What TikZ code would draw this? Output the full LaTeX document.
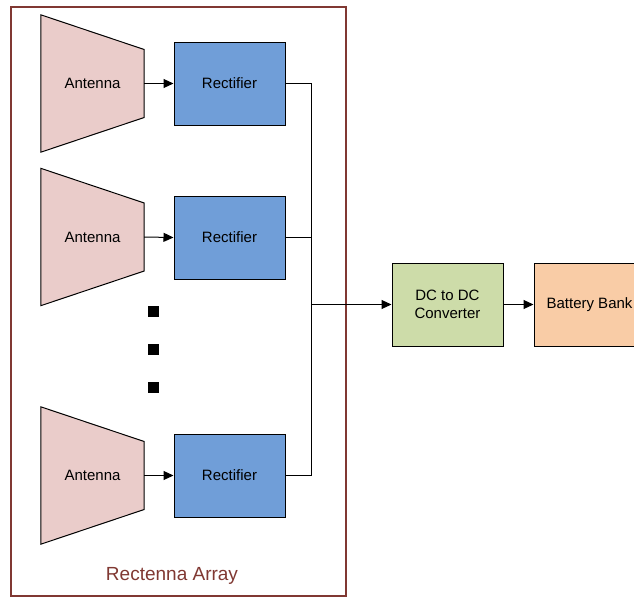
\documentclass[tikz,border=0pt]{standalone}
\usepackage{fontspec}
\setmainfont{Liberation Sans}
\usetikzlibrary{arrows.meta}
\definecolor{framec}{RGB}{128,56,50}
\definecolor{antc}{RGB}{234,204,202}
\definecolor{rectc}{RGB}{112,158,216}
\definecolor{dcc}{RGB}{205,220,169}
\definecolor{batc}{RGB}{249,204,166}
\tikzset{
  box/.style={draw=black, line width=1pt, minimum width=111pt, minimum height=83pt, inner sep=0pt, align=center, font=\fontsize{15pt}{17.5pt}\selectfont},
  antbox/.style={minimum width=103pt, minimum height=137pt, inner sep=0pt, font=\fontsize{15pt}{17.5pt}\selectfont},
  conn/.style={draw=black, line width=1pt},
  arr/.style={conn, -{Triangle[length=10pt,width=9pt]}},
  dot/.style={fill=black, minimum size=11pt, inner sep=0pt}
}
\begin{document}
\begin{tikzpicture}[x=1pt,y=-1pt]
\useasboundingbox (0,0) rectangle (634,597);
\clip (0,0) rectangle (634,597);
% frame
\node[draw=framec, line width=2pt, minimum width=334.5pt, minimum height=588.5pt, inner sep=0pt] (frame) at (178.25,301.25) {};
\node[text=framec, font=\fontsize{19pt}{22pt}\selectfont] (lbl) at (172,576) {Rectenna Array};
% antennas
\foreach \n/\y in {1/83.5, 2/237, 3/475.5}{
  \node[antbox] (a\n) at (92.5,\y) {};
  \fill[antc] (a\n.north west) -- ([yshift=34pt]a\n.east) -- ([yshift=-34pt]a\n.east) -- (a\n.south west) -- cycle;
  \draw[line width=1pt] (a\n.north west) -- ([yshift=34pt]a\n.east) -- ([yshift=-34pt]a\n.east) -- (a\n.south west) -- cycle;
  \node[antbox] at (a\n) {Antenna};
}
% rectifiers
\node[box, fill=rectc] (r1) at (229.5,83.5) {Rectifier};
\node[box, fill=rectc] (r2) at (229.5,237.5) {Rectifier};
\node[box, fill=rectc] (r3) at (229.5,475.5) {Rectifier};
\draw[arr] (a1.east) -- (r1.west);
\draw[arr] (a2.east) -- (r2.west);
\draw[arr] (a3.east) -- (r3.west);
% dots
\node[dot] (d1) at (153.5,311) {};
\node[dot] (d2) at (153.5,349) {};
\node[dot] (d3) at (153.5,387) {};
% bus
\coordinate (bus) at (311,304.5);
\draw[conn] (r1.east) -| (bus);
\draw[conn] (r2.east) -| (bus);
\draw[conn] (r3.east) -| (bus);
% converter and battery
\node[box, fill=dcc] (dc) at (447.5,304.5) {DC to DC\\Converter};
\node[box, fill=batc] (bat) at (589.5,304.5) {Battery Bank};
\draw[arr] (bus) -- (dc.west);
\draw[arr] (dc.east) -- (bat.west);
\end{tikzpicture}
\end{document}
